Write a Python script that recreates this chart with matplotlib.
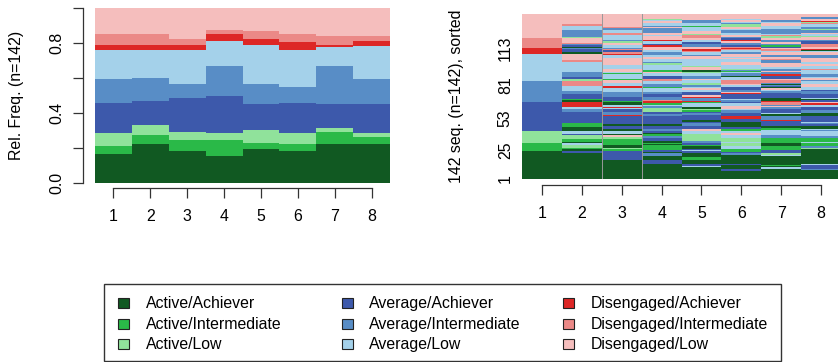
import numpy as np
import matplotlib
matplotlib.use('Agg')
import matplotlib.pyplot as plt
from matplotlib.colors import ListedColormap
from matplotlib.patches import Rectangle

plt.rcParams['font.family'] = ['Liberation Sans', 'DejaVu Sans']
plt.rcParams['font.size'] = 11.4

# states (alphabet) and colours
states = ['Active/Achiever', 'Active/Intermediate', 'Active/Low',
          'Average/Achiever', 'Average/Intermediate', 'Average/Low',
          'Disengaged/Achiever', 'Disengaged/Intermediate', 'Disengaged/Low']
codes = 'ABCDEFGHI'
colors = ['#115922', '#2ab948', '#90e29b',
          '#3d59ab', '#588dc6', '#a4d1ea',
          '#dd2726', '#eb8987', '#f5bebd']
time_points = [1, 2, 3, 4, 5, 6, 7, 8]
n_seq = 142

# state distribution plot: counts per state at each time point
n_active_achiever = [23, 31, 26, 22, 27, 26, 31, 31]
n_active_intermediate = [7, 8, 9, 13, 5, 5, 10, 6]
n_active_low = [10, 8, 6, 5, 11, 9, 3, 3]
n_average_achiever = [25, 19, 28, 30, 21, 25, 20, 24]
n_average_intermediate = [19, 19, 11, 25, 16, 13, 31, 20]
n_average_low = [24, 23, 28, 20, 32, 30, 15, 27]
n_diseng_achiever = [4, 4, 4, 6, 5, 6, 2, 4]
n_diseng_intermediate = [9, 9, 5, 3, 6, 7, 7, 4]
n_diseng_low = [21, 21, 25, 18, 19, 21, 23, 23]

# index plot: sorted sequences, one run-length string per time point (bottom -> top)
seq_t1 = "A24 B7 C10 D25 E18 F24 G5 H8 I21"
seq_t2 = ("A22 D2 A2 B1 C2 F2 A1 B2 C4 D1 F2 A4 B3 D10 E2 F2 G4 A2 B1 D4 E3 F4 H4 "
          "C2 D2 E4 F9 H1 I6 A1 D3 E1 A1 D1 E1 H1 I4 C1 E6 F4 H1 I9")
seq_t3 = ("A16 D8 B2 C1 A2 B1 B4 C2 I2 A1 F2 A2 D1 D2 A1 D1 D6 G1 E3 D2 F1 G1 F2 A2 B1 "
          "D4 E3 E1 F3 G2 F3 I2 B1 F4 B1 F1 I3 F3 I6 F3 G1 H1 D2 H1 E1 F2 I2 C2 E1 "
          "F4 H2 F2 E2 H1 I11")
seq_t4 = ("A13 D3 A4 E2 A1 D2 B1 B3 A1 B1 A2 D2 E2 B2 A1 D1 E2 D3 A1 D2 D5 E2 D2 C3 E2 "
          "F1 B1 G2 H1 E3 D2 E2 F3 B1 E3 F2 H2 D3 F2 I1 B2 F4 C2 E1 F2 I2 F2 E2 F2 I3 "
          "G1 D1 F3 G1 I3 F1 I2 E4 I1 E1 F2 I2 F1 C1 I4")
seq_t5 = ("A10 F1 D2 A3 B3 A3 D2 F1 D1 A2 B1 D2 E2 C6 F2 I2 D3 E2 D1 A2 D4 E2 D1 B1 C1 "
          "A2 F3 B1 G1 E3 G1 I1 D3 F2 I1 F1 E2 C2 F2 I1 E3 F2 C1 A2 I2 C1 F3 F3 I3 E1 "
          "F2 H1 G2 I2 E2 D2 F2 I1 H3 C1 I2 F4 B1 F2 E3 I5")
seq_t6 = ("A7 D2 A2 A1 D1 A8 E1 D1 B3 F2 C1 C2 F1 C3 F3 I2 F1 B2 D2 A1 A3 D3 G2 D3 E2 "
          "F1 I3 F2 D1 E2 F1 D4 G1 I1 E2 D2 F2 I1 H3 F3 A1 E2 F1 B1 E1 C1 F3 I3 F2 I1 "
          "F1 I3 E1 F2 H1 G1 H1 D1 E2 I2 G1 D1 E1 I2 F2 E2 F1 I2 C2 E1 F1 I2 F1 I4")
seq_t7 = ("A9 F1 A1 B1 A8 F1 C1 D3 B3 A1 A2 B4 E3 F4 B2 A2 D1 D3 G1 E3 A2 F1 D3 E2 I1 "
          "E1 H2 G1 A3 D4 E2 F1 I1 A1 D1 E1 A1 E1 H2 I1 D3 G1 E2 I1 E2 F1 I4 E2 H1 I2 "
          "E2 I2 F1 H2 I1 D1 B1 E1 I2 E2 I1 C2 H1 F1 E3 E1 F3 I2 F1 E2 I5")
seq_t8 = ("A8 E1 D3 F1 A1 A8 A2 A2 C1 E1 B3 F1 B3 E2 F4 E1 F1 A3 D1 E1 F1 D2 D3 A3 E2 "
          "D2 D1 F2 G1 I1 D2 A1 F1 D3 E3 D1 F2 I3 F2 E1 I2 F1 E2 F1 F3 H1 F2 I2 F2 I3 "
          "E3 I2 F1 A1 G1 I2 H2 D3 E1 I2 C1 F2 I1 E2 C1 E2 F2 H1 C1 G1 I2 E1 I3")
idx_ticks = [1, 25, 53, 81, 113]

dist_counts = [n_active_achiever, n_active_intermediate, n_active_low,
               n_average_achiever, n_average_intermediate, n_average_low,
               n_diseng_achiever, n_diseng_intermediate, n_diseng_low]
seq_cols = [seq_t1, seq_t2, seq_t3, seq_t4, seq_t5, seq_t6, seq_t7, seq_t8]


def decode(runs):
    out = []
    for tok in runs.split():
        out += [codes.index(tok[0])] * int(tok[1:])
    return out


seq_matrix = np.array([decode(s) for s in seq_cols]).T  # rows = sequences

W, H = 838, 362
fig = plt.figure(figsize=(W / 100, H / 100), dpi=100)
axcol = '#333333'


def px_box(x0, y0, x1, y1):
    return [x0 / W, 1 - y1 / H, (x1 - x0) / W, (y1 - y0) / H]


# left: state distribution plot
ax1 = fig.add_axes(px_box(95, 7.7, 390, 182.7))
x = np.arange(len(time_points))
bottom = np.zeros(len(time_points))
for counts, c in zip(dist_counts, colors):
    freq = np.array(counts) / n_seq
    ax1.bar(x, freq, width=1, bottom=bottom, align='edge', color=c, linewidth=0)
    bottom += freq
ax1.set_xlim(0, 8)
ax1.set_ylim(0, 1)
for s in ['top', 'right']:
    ax1.spines[s].set_visible(False)
ax1.spines['left'].set_position(('outward', 8.9))
ax1.spines['bottom'].set_position(('outward', 3.5))
ax1.spines['bottom'].set_bounds(0.5, 7.5)
for s in ['left', 'bottom']:
    ax1.spines[s].set_color(axcol)
    ax1.spines[s].set_linewidth(0.9)
ax1.set_xticks(x + 0.5)
ax1.set_xticklabels([str(t) for t in time_points])
ax1.set_yticks([0, 0.2, 0.4, 0.6, 0.8, 1.0])
ax1.set_yticklabels(['0.0', '', '0.4', '', '0.8', ''], rotation=90, va='center')
ax1.tick_params(axis='both', length=7.2, width=0.9, color=axcol)
ax1.tick_params(axis='x', pad=8)
ax1.tick_params(axis='y', pad=6)
fig.text(16 / W, 1 - 95 / H, 'Rel. Freq. (n=142)', rotation=90, ha='center', va='center')

# right: sequence index plot
ax2 = fig.add_axes(px_box(522, 14, 841, 179))
cmap = ListedColormap(colors)
ax2.pcolormesh(np.arange(9), np.arange(n_seq + 1), seq_matrix, cmap=cmap,
               vmin=-0.5, vmax=8.5, shading='flat', antialiased=False, linewidth=0)
ax2.axvline(2, color='#999999', lw=0.7)
ax2.axvline(3, color='#999999', lw=0.7)
ax2.set_xlim(0, 8)
ax2.set_ylim(0, n_seq)
for s in ['top', 'right', 'left']:
    ax2.spines[s].set_visible(False)
ax2.spines['bottom'].set_position(('outward', 4.3))
ax2.spines['bottom'].set_bounds(0.5, 7.5)
ax2.spines['bottom'].set_color(axcol)
ax2.spines['bottom'].set_linewidth(0.9)
ax2.set_xticks(x + 0.5)
ax2.set_xticklabels([str(t) for t in time_points])
ax2.set_yticks([t - 0.5 for t in idx_ticks])
ax2.set_yticklabels([str(t) for t in idx_ticks], rotation=90, va='center')
ax2.tick_params(axis='x', length=7.2, width=0.9, color=axcol, pad=8)
ax2.tick_params(axis='y', length=0, pad=6.6)
fig.text(456 / W, 1 - 96 / H, '142 seq. (n=142), sorted', rotation=90, ha='center', va='center')

# legend
fig.add_artist(Rectangle((104 / W, 1 - 361 / H), (781 - 104) / W, (361 - 284) / H,
                         transform=fig.transFigure, fill=False, edgecolor=axcol, lw=1))
sq_x = [118.3, 341.7, 563.3]
row_y = [303.3, 324.3, 344.3]
for k, (lab, c) in enumerate(zip(states, colors)):
    xs, yc = sq_x[k // 3], row_y[k % 3]
    fig.add_artist(Rectangle((xs / W, 1 - (yc + 5) / H), 11 / W, 10 / H,
                             transform=fig.transFigure, facecolor=c,
                             edgecolor='#222222', lw=0.8))
    fig.text((xs + 27.4) / W, 1 - yc / H, lab, ha='left', va='center')

fig.savefig('out.png', dpi=100)
